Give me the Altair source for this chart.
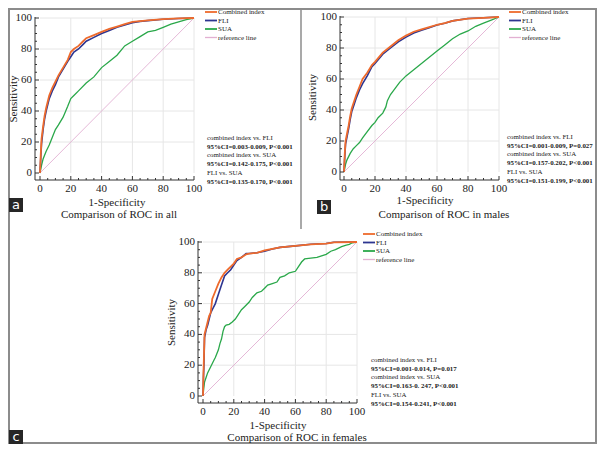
import altair as alt
import pandas as pd

W, H = 589, 436
SERIF = "Liberation Serif"

# ---------------- data ----------------
series_names = ["Combined index", "FLI", "SUA", "reference line"]

a_comb_x = [0, 0.5, 1, 2, 3, 4, 5, 6, 8, 10, 12, 15, 18, 20, 22, 25, 28, 30, 35, 40, 45, 50, 55, 60, 65, 70, 80, 90, 100]
a_comb_y = [0, 12, 22, 30, 37, 42, 46, 50, 55, 59, 63, 68, 73, 78, 80, 82, 85, 87, 89, 91, 93, 94.5, 96, 97.5, 98, 98.5, 99.3, 99.7, 100]
a_fli_x = a_comb_x
a_fli_y = [0, 10, 19, 28, 35, 40, 44, 48, 53, 57, 62, 67, 72, 75, 78, 80, 83, 85, 87.5, 90, 92, 94, 95.5, 97, 97.8, 98.3, 99.2, 99.7, 100]
a_sua_x = [0, 1, 2, 4, 6, 8, 10, 12, 15, 18, 20, 22, 25, 30, 35, 40, 45, 50, 55, 60, 65, 70, 75, 80, 85, 90, 95, 100]
a_sua_y = [0, 5, 9, 14, 18, 23, 28, 31, 36, 43, 48, 50, 53, 58, 62, 68, 72, 76, 82, 85, 88, 91, 92, 94, 96, 97.5, 99, 100]

b_comb_x = [0, 0.5, 1, 2, 3, 4, 5, 6, 8, 10, 12, 15, 18, 20, 25, 30, 35, 40, 45, 50, 55, 60, 65, 70, 80, 90, 100]
b_comb_y = [0, 12, 20, 25, 30, 36, 41, 44, 50, 55, 60, 64, 69, 71, 77, 81, 85, 88, 90.5, 92, 93.5, 95, 96, 97.5, 99, 99.5, 100]
b_fli_x = b_comb_x
b_fli_y = [0, 10, 18, 23, 28, 34, 39, 42, 48, 53, 57, 62, 68, 70, 76, 80, 84, 87, 89.7, 91.5, 93, 94.8, 96, 97.5, 99, 99.5, 100]
b_sua_x = [0, 1, 2, 4, 6, 8, 10, 12, 15, 18, 20, 22, 25, 27, 28, 30, 33, 36, 40, 45, 50, 55, 60, 65, 70, 75, 80, 85, 90, 95, 100]
b_sua_y = [0, 5, 8, 12, 15, 17, 19, 22, 26, 30, 32, 35, 38, 42, 46, 50, 54, 58, 62, 66, 70, 74, 78, 82, 86, 89, 91, 94, 96, 98, 100]

c_comb_x = [0, 0.3, 0.6, 1, 2, 3, 4, 5, 6, 8, 10, 12, 14, 16, 18, 20, 22, 25, 28, 30, 35, 40, 45, 50, 55, 60, 70, 80, 85, 100]
c_comb_y = [0, 15, 25, 40, 44, 48, 52, 54, 63, 68, 73, 77, 80, 82, 84, 86, 89, 90, 92, 92.5, 93, 94.5, 95.5, 96.5, 97, 97.5, 98.5, 99, 99.8, 100]
c_fli_x = c_comb_x
c_fli_y = [0, 12, 20, 38, 43, 46, 50, 54, 56, 60, 66, 72, 78, 80, 82, 85, 88, 90, 92.5, 92.5, 93, 94, 95.5, 96.5, 97, 97.5, 98.5, 99, 99.8, 100]
c_sua_x = [0, 0.5, 1, 2, 3, 5, 7, 8, 10, 11, 12, 13, 14, 15, 17, 19, 21, 23, 25, 27, 30, 32, 35, 38, 40, 42, 45, 48, 50, 53,
           56, 60, 62, 64, 66, 70, 74, 77, 80, 83, 86, 90, 93, 95, 97, 100]
c_sua_y = [0, 5, 9, 12, 15, 19, 23, 25, 30, 34, 37, 42, 45, 46, 46.5, 48, 50, 53, 56, 58, 61, 64, 67, 68, 70, 72, 73, 74, 77, 78,
           80, 81, 84, 87, 89, 89.5, 90, 91, 92, 94, 95, 97, 98, 98.5, 99.5, 100]

ref_x = [0, 100]
ref_y = [0, 100]

major_ticks = [0, 20, 40, 60, 80, 100]
tick_labels = ["0", "20", "40", "60", "80", "100"]
minor_ticks = [5, 10, 15, 25, 30, 35, 45, 50, 55, 65, 70, 75, 85, 90, 95]
grid_vals = [20, 40, 60, 80, 100]

x_title = "1-Specificity"
y_title = "Sensitivity"
panel_titles = ["Comparison of ROC in all", "Comparison of ROC in males", "Comparison of ROC in females"]
panel_letters = ["a", "b", "c"]
annotations = [
    ["combined index vs. FLI", "95%CI=0.003-0.009, P<0.001",
     "combined index vs. SUA", "95%CI=0.142-0.175, P<0.001",
     "FLI vs. SUA", "95%CI=0.135-0.170, P<0.001"],
    ["combined index vs. FLI", "95%CI=0.001-0.009, P=0.027",
     "combined index vs. SUA", "95%CI=0.157-0.202, P<0.001",
     "FLI vs. SUA", "95%CI=0.151-0.199, P<0.001"],
    ["combined index vs. FLI", "95%CI=0.001-0.014, P=0.017",
     "combined index vs. SUA", "95%CI=0.163-0. 247, P<0.001",
     "FLI vs. SUA", "95%CI=0.154-0.241, P<0.001"],
]

# ---------------- styles / layout ----------------
COLORS = {"Combined index": "#ee6a2c", "FLI": "#2d3590", "SUA": "#2aa84a", "reference line": "#e2b0d2"}
WIDTHS = {"Combined index": 1.8, "FLI": 1.6, "SUA": 1.3, "reference line": 0.9}
GRID = "#e6e6e6"
AXC = "#333333"
TXT = "#222222"

panels = [
    dict(xr=[32, 186], yr=[165, 10], yax=27, xax=172, leg_x=197, leg_y=[4, 12.5, 21, 29.5],
         ann_x=199, ann_y=130, ylab=(6, 91), xlab=(109, 195), ttl=(111, 207), box=(1, 190)),
    dict(xr=[336, 491], yr=[164, 9], yax=332, xax=172, leg_x=501, leg_y=[4, 12.5, 21, 29.5],
         ann_x=499, ann_y=129, ylab=(305, 89.5), xlab=(417, 193), ttl=(436, 207), box=(309, 192)),
    dict(xr=[195, 349], yr=[388, 234], yax=190, xax=395, leg_x=355, leg_y=[226, 234.5, 243, 251.5],
         ann_x=363, ann_y=352, ylab=(164, 314.5), xlab=(270, 418), ttl=(289, 430), box=(1, 422)),
]

data_sets = [
    {"Combined index": (a_comb_x, a_comb_y), "FLI": (a_fli_x, a_fli_y), "SUA": (a_sua_x, a_sua_y)},
    {"Combined index": (b_comb_x, b_comb_y), "FLI": (b_fli_x, b_fli_y), "SUA": (b_sua_x, b_sua_y)},
    {"Combined index": (c_comb_x, c_comb_y), "FLI": (c_fli_x, c_fli_y), "SUA": (c_sua_x, c_sua_y)},
]


def one():
    return pd.DataFrame({"k": [0]})


def text(s, x, y, size=7.0, weight="normal", align="left", angle=0, font=SERIF, color=TXT):
    kw = dict(align=align, baseline="middle", fontSize=size, fontWeight=weight, font=font, color=color)
    if angle:
        kw["angle"] = angle
    return alt.Chart(pd.DataFrame({"t": [s]})).mark_text(**kw).encode(
        x=alt.value(x), y=alt.value(y), text="t:N")


def hrule(x1, x2, y, color, width=1.0):
    return alt.Chart(one()).mark_rule(color=color, strokeWidth=width).encode(
        x=alt.value(x1), x2=alt.value(x2), y=alt.value(y))


def vrule(x, y1, y2, color, width=1.0):
    return alt.Chart(one()).mark_rule(color=color, strokeWidth=width).encode(
        x=alt.value(x), y=alt.value(y1), y2=alt.value(y2))


def panel_layer(p, ds):
    xs = alt.Scale(domain=[0, 100], range=p["xr"], nice=False, zero=False)
    ys = alt.Scale(domain=[0, 100], range=p["yr"], nice=False, zero=False)
    top, bot = p["yr"][1], p["yr"][0]
    left, right = p["xr"]
    layers = []
    gv = pd.DataFrame({"v": grid_vals})
    layers.append(alt.Chart(gv).mark_rule(color=GRID, strokeWidth=1).encode(
        x=alt.X("v:Q", scale=xs, axis=None), y=alt.value(top), y2=alt.value(bot)))
    layers.append(alt.Chart(gv).mark_rule(color=GRID, strokeWidth=1).encode(
        y=alt.Y("v:Q", scale=ys, axis=None), x=alt.value(left), x2=alt.value(right)))
    # reference diagonal
    dref = pd.DataFrame({"x": ref_x, "y": ref_y, "i": [0, 1]})
    layers.append(alt.Chart(dref).mark_line(color=COLORS["reference line"],
                                            strokeWidth=WIDTHS["reference line"]).encode(
        x=alt.X("x:Q", scale=xs, axis=None), y=alt.Y("y:Q", scale=ys, axis=None), order="i:Q"))
    for name in ["SUA", "FLI", "Combined index"]:
        xv, yv = ds[name]
        df = pd.DataFrame({"x": xv, "y": yv, "i": list(range(len(xv)))})
        layers.append(alt.Chart(df).mark_line(color=COLORS[name], strokeWidth=WIDTHS[name]).encode(
            x=alt.X("x:Q", scale=xs, axis=None),
            y=alt.Y("y:Q", scale=ys, axis=None),
            order="i:Q"))
    # axis lines
    layers.append(hrule(p["yax"], right, p["xax"], AXC, 1))
    layers.append(vrule(p["yax"], top - 1, p["xax"], AXC, 1))
    # inward ticks
    tmaj = pd.DataFrame({"v": major_ticks, "lab": tick_labels})
    tmin = pd.DataFrame({"v": minor_ticks})
    layers.append(alt.Chart(tmaj).mark_rule(color=AXC, strokeWidth=1).encode(
        x=alt.X("v:Q", scale=xs, axis=None), y=alt.value(p["xax"]), y2=alt.value(p["xax"] - 4)))
    layers.append(alt.Chart(tmin).mark_rule(color=AXC, strokeWidth=1).encode(
        x=alt.X("v:Q", scale=xs, axis=None), y=alt.value(p["xax"]), y2=alt.value(p["xax"] - 2)))
    layers.append(alt.Chart(tmaj).mark_rule(color=AXC, strokeWidth=1).encode(
        y=alt.Y("v:Q", scale=ys, axis=None), x=alt.value(p["yax"]), x2=alt.value(p["yax"] + 4)))
    layers.append(alt.Chart(tmin).mark_rule(color=AXC, strokeWidth=1).encode(
        y=alt.Y("v:Q", scale=ys, axis=None), x=alt.value(p["yax"]), x2=alt.value(p["yax"] + 2)))
    # tick labels
    layers.append(alt.Chart(tmaj).mark_text(font=SERIF, fontSize=11, color=TXT, align="center",
                                            baseline="middle").encode(
        x=alt.X("v:Q", scale=xs, axis=None), y=alt.value(p["xax"] + 8.5), text="lab:N"))
    layers.append(alt.Chart(tmaj).mark_text(font=SERIF, fontSize=11, color=TXT, align="right",
                                            baseline="middle").encode(
        y=alt.Y("v:Q", scale=ys, axis=None), x=alt.value(p["yax"] - 3), text="lab:N"))
    return alt.layer(*layers)


layers = []
# outer frame and divider
layers.append(alt.Chart(one()).mark_rect(fillOpacity=0, stroke="#8c8c8c", strokeWidth=2).encode(
    x=alt.value(1), x2=alt.value(588), y=alt.value(1), y2=alt.value(435)))
layers.append(vrule(293, 0, 221, "#8c8c8c", 1.5))

for k, p in enumerate(panels):
    layers.append(panel_layer(p, data_sets[k]))

for k, p in enumerate(panels):
    # legend
    for j, name in enumerate(series_names):
        ly = p["leg_y"][j]
        layers.append(hrule(p["leg_x"], p["leg_x"] + 12, ly, COLORS[name],
                            1.8 if name != "reference line" else 1.3))
        layers.append(text(name, p["leg_x"] + 13, ly, size=7.0))
    # annotations
    for j, line in enumerate(annotations[k]):
        layers.append(text(line, p["ann_x"], p["ann_y"] + j * 8.7, size=6.9,
                           weight="bold" if j % 2 == 1 else "normal"))
    # titles
    layers.append(text(y_title, p["ylab"][0], p["ylab"][1], size=11, align="center", angle=270))
    layers.append(text(x_title, p["xlab"][0], p["xlab"][1], size=11, align="center"))
    layers.append(text(panel_titles[k], p["ttl"][0], p["ttl"][1], size=11, align="center"))
    # panel letter box
    bx, by = p["box"]
    layers.append(alt.Chart(one()).mark_rect(fill="#262626").encode(
        x=alt.value(bx), x2=alt.value(bx + 14), y=alt.value(by), y2=alt.value(by + 14)))
    layers.append(text(panel_letters[k], bx + 7, by + 6.5, size=13, align="center",
                       font="DejaVu Sans", color="#ffffff"))

chart = alt.layer(*layers).resolve_scale(x="independent", y="independent").properties(
    width=W, height=H, padding=0, autosize="none"
).configure_view(stroke=None)

chart.save("out.html", embed_options={"renderer": "svg", "actions": False})
